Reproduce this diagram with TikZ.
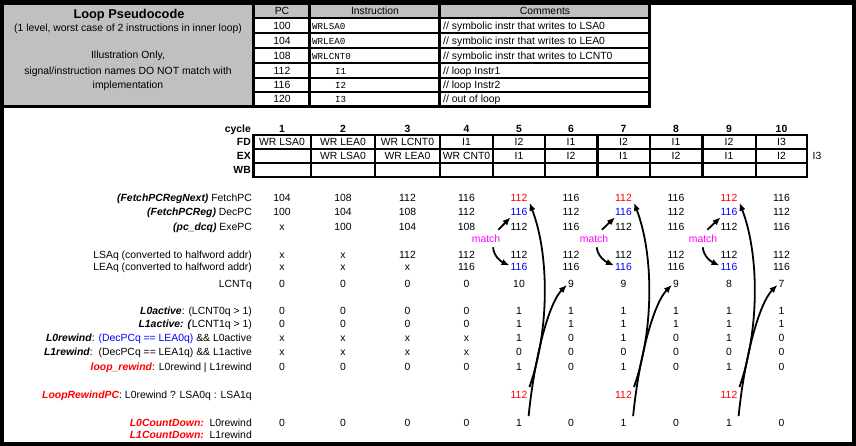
\documentclass[tikz,border=0pt]{standalone}
\usepackage{fontspec}
\setmainfont{Liberation Sans}
\setmonofont{Liberation Mono}
\usetikzlibrary{arrows.meta}
\definecolor{cgray}{RGB}{192,192,192}
\definecolor{cred}{RGB}{255,0,0}
\definecolor{cblue}{RGB}{0,0,255}
\definecolor{cmag}{RGB}{255,0,255}
\newcommand\fs{\fontsize{10.4}{12}\selectfont}
\newcommand\bi[1]{\textbf{\textit{#1}}}
\def\colxs{{282,343,407.5,466.5,519,571,623.5,676,729,781.5}}
\newcommand\rowvals[3]{\foreach \vv [count=\ii] in {#3} {\pgfmathsetmacro\xx{\colxs[\ii-1]}\node[val] (#1\ii) at (\xx,#2) {\vv};}}
\begin{document}
\begin{tikzpicture}[x=1pt,y=-1pt,
  every node/.style={inner sep=0pt,font=\fs},
  val/.style={anchor=base},
  lbl/.style={anchor=base east},
  mono/.style={anchor=base west,font=\fontsize{9.2}{11}\selectfont\ttfamily},
  gthin/.style={line width=2.2pt,line cap=rect},
  gthick/.style={line width=2.8pt,line cap=rect},
  arr/.style={line width=1.8pt,-{Latex[length=8pt,width=6.5pt]}}]
\useasboundingbox (0,0) rectangle (856,446);
% frame
\fill[white] (0,0) rectangle (856,446);
\fill[black] (0,0) rectangle (856,5.5);
\fill[black] (0,0) rectangle (4,446);
\fill[black] (852,0) rectangle (856,446);
\fill[black] (0,441.5) rectangle (856,446);
% top table
\fill[cgray] (4,5.5) rectangle (253.5,106);
\fill[cgray] (253.5,5.5) rectangle (649.5,18.3);
\foreach \yy in {18.3,33.3,48,63,77.7,91.7} \draw[gthin] (253.5,\yy) -- (649.5,\yy);
\draw[gthin] (309.5,5.5) -- (309.5,106);
\draw[gthin] (439.5,5.5) -- (439.5,106);
\draw[gthick] (253.5,5.5) -- (253.5,106);
\draw[gthick] (649.5,5.5) -- (649.5,106);
\draw[gthick] (4,106.3) -- (649.5,106.3);
\node[val,font=\fontsize{12.8}{15}\selectfont\bfseries] (title) at (129,18.5) {Loop Pseudocode};
\node[val] (sub) at (128,31.5) {(1 level, worst case of 2 instructions in inner loop)};
\node[val] (ill1) at (128,59) {Illustration Only,};
\node[val] (ill2) at (128,74.5) {signal/instruction names DO NOT match with};
\node[val] (ill3) at (128,88.5) {implementation};
\node[val] (hpc) at (282,14.5) {PC};
\node[val] (hins) at (375,14.5) {Instruction};
\node[val] (hcom) at (545,14.5) {Comments};
\foreach \pc/\ins/\com/\yy [count=\ii] in {
  100/WRLSA0/{// symbolic instr that writes to LSA0}/29.5,
  104/WRLEA0/{// symbolic instr that writes to LEA0}/44.5,
  108/WRLCNT0/{// symbolic instr that writes to LCNT0}/59.5,
  112/{\hspace{23pt}I1}/{// loop Instr1}/74.5,
  116/{\hspace{23pt}I2}/{// loop Instr2}/88.5,
  120/{\hspace{23pt}I3}/{// out of loop}/102.5} {
  \node[val] (tpc\ii) at (282,\yy) {\pc};
  \node[mono] (tin\ii) at (312,\yy) {\ins};
  \node[anchor=base west] (tco\ii) at (443,\yy) {\com};
}
% pipeline table
\foreach \xx in {253.5,311.2,375.2,440.2,492.8,545.2,597.5,650.3,702.5,755.7,807.2}
  \draw[gthin] (\xx,134.8) -- (\xx,176.8);
\foreach \yy in {134.8,148.8,162.8,176.8}
  \draw[gthin] (253.5,\yy) -- (807.2,\yy);
\node[lbl,font=\fs\bfseries] (lcyc) at (251,132.7) {cycle};
\node[lbl,font=\fs\bfseries] (lfd) at (251,145.5) {FD};
\node[lbl,font=\fs\bfseries] (lex) at (251,159.5) {EX};
\node[lbl,font=\fs\bfseries] (lwb) at (251,173.5) {WB};
\foreach \ii in {1,...,10} {\pgfmathsetmacro\xx{\colxs[\ii-1]}\node[val,font=\fs\bfseries] (cyc\ii) at (\xx,132.7) {\ii};}
\foreach \tt [count=\ii] in {WR LSA0,WR LEA0,WR LCNT0,I1,I2,I1,I2,I1,I2,I3}
  {\pgfmathsetmacro\xx{\colxs[\ii-1]}\node[val] (fd\ii) at (\xx,145.5) {\tt};}
\foreach \tt [count=\ii from 2] in {WR LSA0,WR LEA0,WR CNT0,I1,I2,I1,I2,I1,I2}
  {\pgfmathsetmacro\xx{\colxs[\ii-1]}\node[val] (ex\ii) at (\xx,159.5) {\tt};}
\node[val] (exout) at (817,160) {I3};
% labels
\node[lbl] (fpL) at (252,201.5) {\bi{(FetchPCRegNext)} FetchPC};
\node[lbl] (dpL) at (252,215.5) {\bi{(FetchPCReg)} DecPC};
\node[lbl] (epL) at (252,230.5) {\bi{(pc\_dcq)} ExePC};
\node[lbl] (lsL) at (252,258.5) {LSAq (converted to halfword addr)};
\node[lbl] (leL) at (252,270.5) {LEAq (converted to halfword addr)};
\node[lbl] (lcL) at (252,287.5) {LCNTq};
\node[lbl] (a0L) at (252,314.5) {\bi{L0active}: (LCNT0q > 1)};
\node[lbl] (a1L) at (252,327.5) {\bi{L1active: (}LCNT1q > 1)};
\node[lbl] (r0L) at (252,341.5) {\bi{L0rewind}: \textcolor{cblue}{(DecPCq == LEA0q)} \&\& L0active};
\node[lbl] (r1L) at (252,355.5) {\bi{L1rewind}:\ \ (DecPCq == LEA1q) \&\& L1active};
\node[lbl] (lrL) at (252,370.5) {\textcolor{cred}{\bi{loop\_rewind}}: L0rewind | L1rewind};
\node[lbl] (pcL) at (252,398.5) {\textcolor{cred}{\bi{LoopRewindPC}}: L0rewind ? LSA0q : LSA1q};
\node[lbl] (cdL) at (252,426.5) {\textcolor{cred}{\bi{L0CountDown:}}\ \ L0rewind};
\node[lbl] (cd1L) at (252,438.5) {\textcolor{cred}{\bi{L1CountDown:}}\ \ L1rewind};
% values
\rowvals{fp}{201.5}{104,108,112,116,\textcolor{cred}{112},116,\textcolor{cred}{112},116,\textcolor{cred}{112},116}
\rowvals{dp}{215.5}{100,104,108,112,\textcolor{cblue}{116},112,\textcolor{cblue}{116},112,\textcolor{cblue}{116},112}
\rowvals{ep}{230.5}{x,100,104,108,112,116,112,116,112,116}
\rowvals{ls}{258.5}{x,x,112,112,112,112,112,112,112,112}
\rowvals{le}{270.5}{x,x,x,116,\textcolor{cblue}{116},116,\textcolor{cblue}{116},116,\textcolor{cblue}{116},116}
\rowvals{lc}{287.5}{0,0,0,0,10,9,9,9,8,7}
\rowvals{aa}{314.5}{0,0,0,0,1,1,1,1,1,1}
\rowvals{ab}{327.5}{0,0,0,0,1,1,1,1,1,1}
\rowvals{ra}{341.5}{x,x,x,x,1,0,1,0,1,0}
\rowvals{rb}{355.5}{x,x,x,x,0,0,0,0,0,0}
\rowvals{lr}{370.5}{0,0,0,0,1,0,1,0,1,0}
\rowvals{cd}{426.5}{0,0,0,0,1,0,1,0,1,0}
\node[val,text=cred] (pc5) at (519,398.5) {112};
\node[val,text=cred] (pc7) at (623.5,398.5) {112};
\node[val,text=cred] (pc9) at (729,398.5) {112};
\node[val,text=cmag] (m5) at (486,242.5) {match};
\node[val,text=cmag] (m7) at (594,242.5) {match};
\node[val,text=cmag] (m9) at (703,242.5) {match};
% arrows
\foreach \c/\n/\ax/\bx in {5/6/-2/7,7/8/-6.5/2.7,9/10/-10/-0.3} {
  \draw[arr] ([shift={(2,-4)}]pc\c.north east) .. controls +(20,-57) and +(20,52) .. ([shift={(2,1)}]fp\c.south east);
  \draw[arr] ([shift={(6.5,-3)}]cd\c.north east) .. controls +(6,-60) and +(-18,18) .. ([shift={(-1,1)}]lc\n.west);
  \draw[arr] ([shift={(\ax,-5)}]m\c.north east) -- ([shift={(0,1.5)}]dp\c.south west);
  \draw[arr] ([shift={(\bx,4.5)}]m\c.south) .. controls +(1,9) and +(-9,-4) .. ([shift={(-1,-1.5)}]le\c.west);
}
\end{tikzpicture}
\end{document}
